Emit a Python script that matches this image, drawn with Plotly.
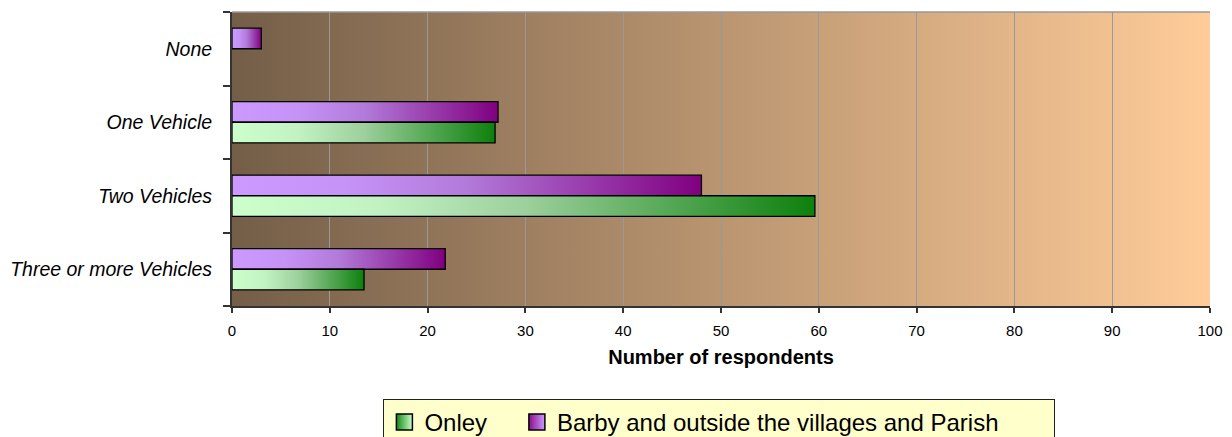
import plotly.graph_objects as go
from urllib.parse import quote

categories = ["None", "One Vehicle", "Two Vehicles", "Three or more Vehicles"]
onley = [0, 26.9, 59.6, 13.5]
barby = [3.0, 27.2, 48.0, 21.8]
series_names = ["Onley", "Barby and outside the villages and Parish"]
x_ticks = [0, 10, 20, 30, 40, 50, 60, 70, 80, 90, 100]

FONT = "Liberation Sans, Arial, sans-serif"
BAR_H = 0.28

onley_scale = [[0, "#ccffcc"], [0.25, "#c2f2c2"], [0.5, "#9dd09d"], [1, "#0d800d"]]
barby_scale = [[0, "#cc99ff"], [0.25, "#c592f6"], [0.5, "#b27ad9"], [1, "#800080"]]

fig = go.Figure()


def add_bars(values, side, scale, label):
    # side -1 puts the bar above the category centre, +1 below (y axis is reversed)
    for i, v in enumerate(values):
        if not v:
            continue
        y0 = i if side > 0 else i - BAR_H
        y1 = y0 + BAR_H
        fig.add_trace(go.Scatter(
            x=[0, v, v, 0, 0], y=[y0, y0, y1, y1, y0],
            mode="lines", fill="toself",
            fillgradient=dict(type="horizontal", colorscale=scale),
            line=dict(color="black", width=1.3),
            hoveron="fills", hoverinfo="text",
            text=f"{label} - {categories[i]}: {v}",
            showlegend=False,
        ))


add_bars(barby, -1, barby_scale, series_names[1])
add_bars(onley, 1, onley_scale, series_names[0])

# legend entries (per-entry widths mimic the wide original legend box)
# marker gradient runs from gradient.color (left) to marker.color (right)
for name, light, dark, lw in [(series_names[0], "#ccffcc", "#128a12", 87.5),
                              (series_names[1], "#cc99ff", "#8a108a", 492)]:
    fig.add_trace(go.Scatter(
        x=[None], y=[None], mode="markers", name=name, legendwidth=lw,
        marker=dict(symbol="square", size=16, color=dark,
                    gradient=dict(type="horizontal", color=light),
                    line=dict(color="black", width=1.5)),
    ))

svg = ('<svg xmlns="http://www.w3.org/2000/svg" width="100" height="10" '
       'viewBox="0 0 100 10" preserveAspectRatio="none">'
       '<defs><linearGradient id="g" x1="0" y1="0" x2="1" y2="0">'
       '<stop offset="0" stop-color="#745e48"/><stop offset="1" stop-color="#ffcc99"/>'
       '</linearGradient></defs><rect width="100" height="10" fill="url(#g)"/></svg>')
bg_src = "data:image/svg+xml;charset=utf-8," + quote(svg)

# page body adds an 8px offset, so the figure is 8px smaller than the window
fig.update_layout(
    width=1224, height=429,
    margin=dict(l=223.5, r=22, t=4, b=131, autoexpand=False),
    paper_bgcolor="white", plot_bgcolor="rgba(0,0,0,0)",
    font=dict(family=FONT, color="black"),
    images=[dict(source=bg_src, xref="x", yref="y", x=0, y=-0.5, sizex=100, sizey=4,
                 xanchor="left", yanchor="top", sizing="stretch", layer="below")],
    shapes=[dict(type="line", xref="paper", yref="paper", x0=0, x1=1, y0=1, y1=1,
                 line=dict(color="#999999", width=1.5))],
    legend=dict(orientation="h", x=0.1548, y=-0.3163, xanchor="left", yanchor="top",
                bgcolor="#ffffcc", bordercolor="#222222", borderwidth=1,
                font=dict(size=24, family=FONT),
                itemclick=False, itemdoubleclick=False),
    showlegend=True,
)

fig.update_xaxes(
    range=[0, 100], tickvals=x_ticks, showgrid=True, gridcolor="#999999", gridwidth=1.3,
    zeroline=False, showline=True, linecolor="#333333", linewidth=2,
    ticks="outside", ticklen=5, tickcolor="#333333", tickwidth=1.5,
    tickfont=dict(size=15), ticklabelstandoff=5,
    title=dict(text="Number of respondents", font=dict(size=20, weight="bold"), standoff=12),
    fixedrange=True,
)
fig.update_yaxes(
    range=[3.5, -0.5], tickvals=[0, 1, 2, 3], ticktext=categories,
    ticks="", showgrid=False, zeroline=False,
    showline=True, linecolor="#333333", linewidth=2,
    tickfont=dict(size=19.5, style="italic"), ticklabelstandoff=14,
    minor=dict(tickvals=[-0.5, 0.5, 1.5, 2.5, 3.5], ticks="outside", ticklen=7,
               tickcolor="#333333", tickwidth=1.5, showgrid=False),
    fixedrange=True,
)

fig.write_html("out.html")
